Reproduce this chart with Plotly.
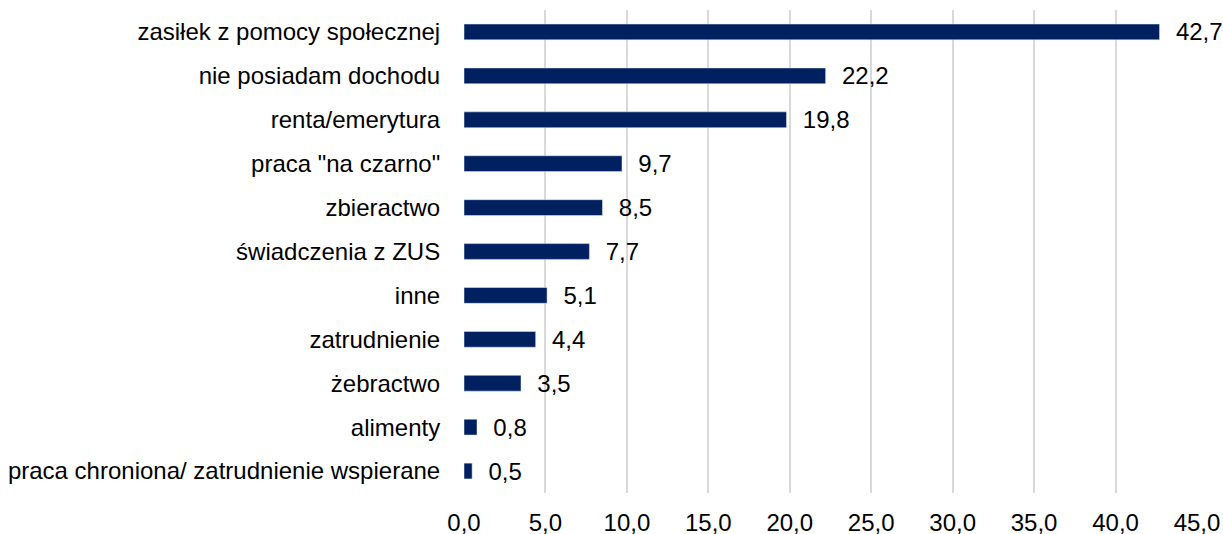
import plotly.graph_objects as go

categories = ["zasiłek z pomocy społecznej", "nie posiadam dochodu", "renta/emerytura",
              'praca "na czarno"', "zbieractwo", "świadczenia z ZUS", "inne",
              "zatrudnienie", "żebractwo", "alimenty",
              "praca chroniona/ zatrudnienie wspierane"]
values = [42.7, 22.2, 19.8, 9.7, 8.5, 7.7, 5.1, 4.4, 3.5, 0.8, 0.5]
x_ticks = [0, 5, 10, 15, 20, 25, 30, 35, 40, 45]

labels = ["  " + f"{v:.1f}".replace(".", ",") for v in values]

FONT = "Liberation Sans, Arial"

fig = go.Figure(go.Bar(
    y=categories, x=values, orientation="h",
    marker_color="#002060", width=0.36,
    text=labels, textposition="outside", cliponaxis=False,
    constraintext="none",
    textfont=dict(family=FONT, size=24, color="#000000"),
))

fig.update_layout(
    width=1223, height=534,
    margin=dict(l=464, r=26, t=10, b=41),
    paper_bgcolor="white", plot_bgcolor="white",
    separators=", ",
    font=dict(family=FONT, size=24, color="#000000"),
    showlegend=False,
)
fig.update_xaxes(range=[0, 45], tickvals=x_ticks, tickformat=".1f", automargin=False,
                 showgrid=True, gridcolor="#d9d9d9", gridwidth=1.5,
                 zeroline=False, showline=False, ticks="outside", ticklen=8, tickcolor="white")
fig.update_yaxes(autorange="reversed", showgrid=False, showline=False, automargin=False,
                 ticks="outside", ticklen=18, tickcolor="white")
fig.write_html("out.html", config={"displayModeBar": False},
               post_script="document.body.style.margin='0';document.body.style.overflow='hidden';")
